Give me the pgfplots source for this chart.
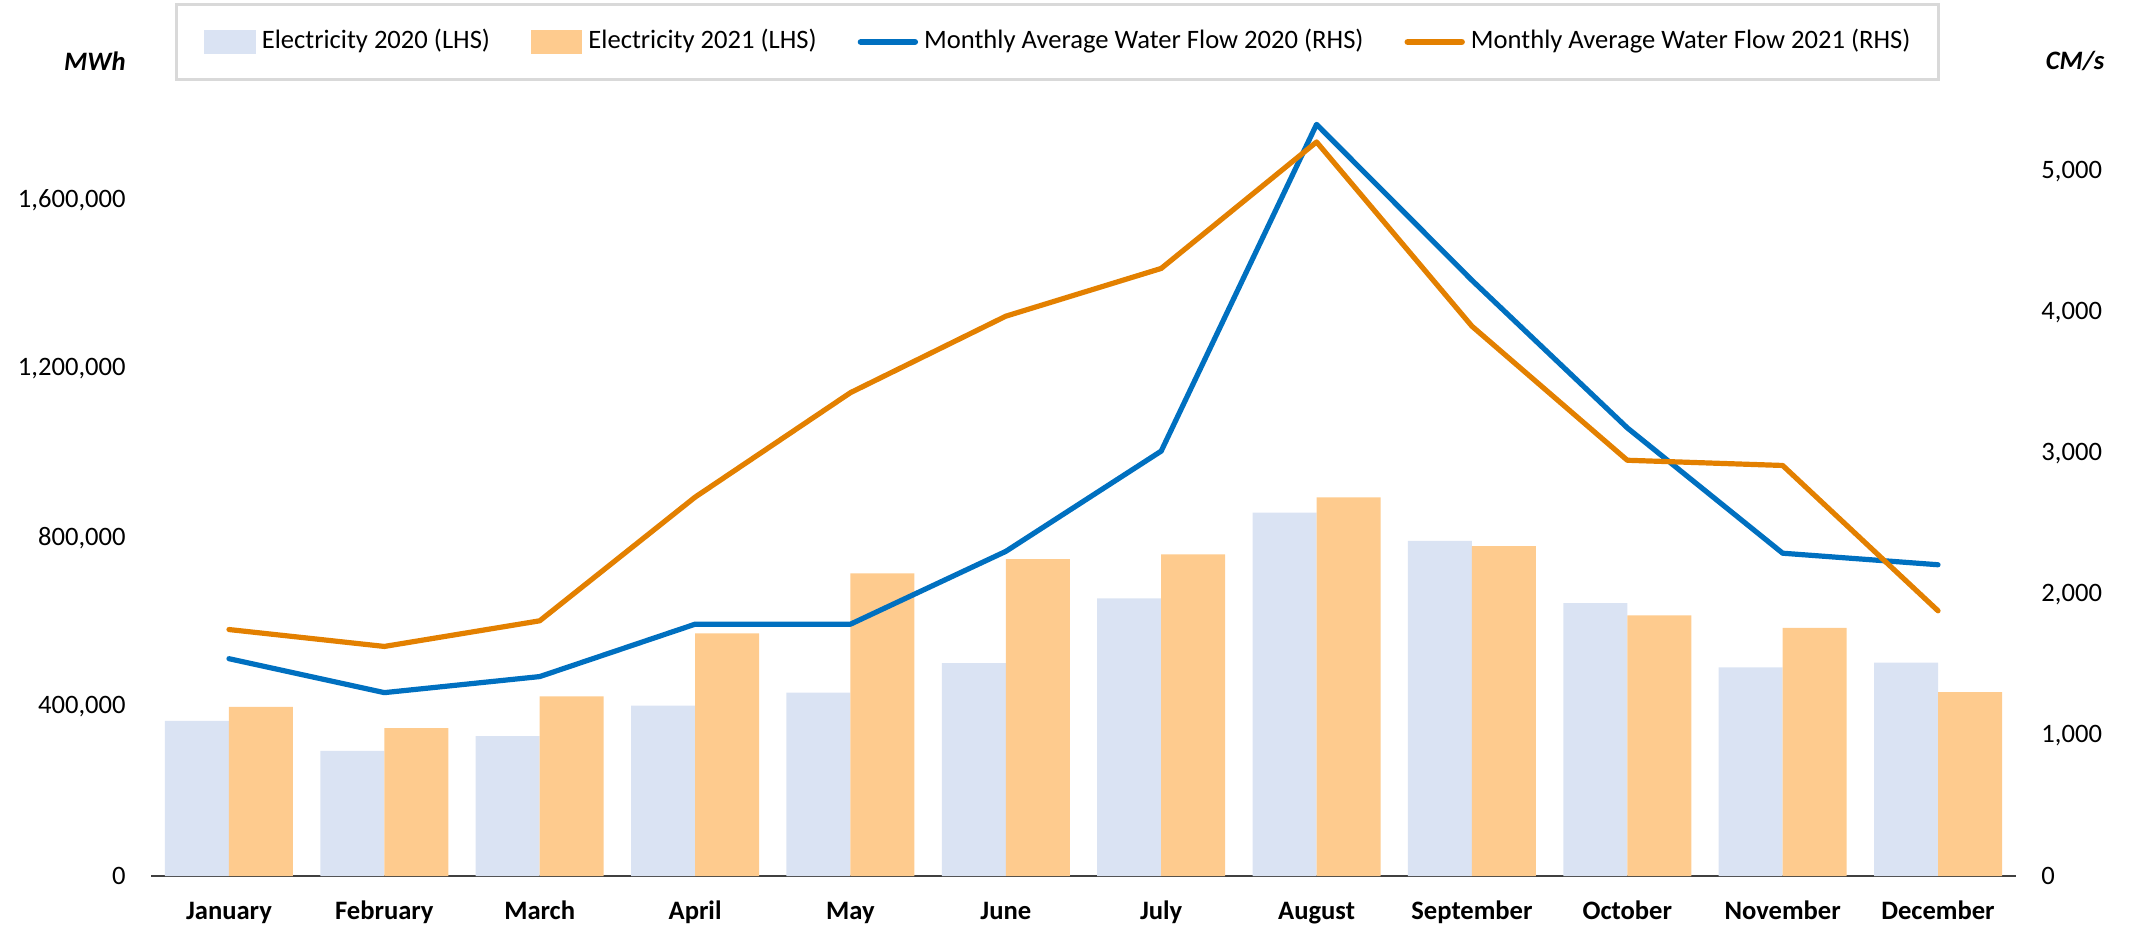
\documentclass[border=0pt]{standalone}
\usepackage{pgfplots}
\pgfplotsset{compat=1.18}
\usepackage{fontspec}
\setmainfont{Carlito}
\definecolor{bar20}{HTML}{DAE3F3}
\definecolor{bar21}{HTML}{FECB8E}
\definecolor{line20}{HTML}{0070C0}
\definecolor{line21}{HTML}{E38000}
\definecolor{legborder}{HTML}{D9D9D9}
\newcommand{\fs}{\fontsize{13.3}{16}\selectfont}
\begin{document}
\begin{tikzpicture}
\begin{axis}[
  at={(0pt,0pt)}, anchor=south west,
  scale only axis, width=932.2pt, height=422.5pt,
  xmin=-0.5, xmax=11.5, ymin=0, ymax=2000000,
  axis x line*=bottom, axis y line*=left,
  x axis line style={draw=black!75, line width=1pt, -},
  y axis line style={draw=none},
  scaled y ticks=false,
  xtick={0,...,11},
  xticklabels={January,February,March,April,May,June,July,August,September,October,November,December},
  xticklabel style={font=\fs\bfseries, anchor=base, inner sep=0pt, yshift=-21.5pt},
  ytick={0,400000,800000,1200000,1600000},
  yticklabels={0,{400,000},{800,000},{1,200,000},{1,600,000}},
  yticklabel style={font=\fs, anchor=east, inner sep=0pt, xshift=-12.65pt},
  major tick length=0pt,
  /pgf/number format/assume math mode=true,
  clip=false,
]
\addplot[ybar, bar width=0.412, bar shift=-0.206, fill=bar20, draw=none] coordinates {
 (0,367000) (1,296000) (2,331000) (3,403000) (4,434000) (5,504000)
 (6,657000) (7,860000) (8,793000) (9,646000) (10,494000) (11,505000)};
\addplot[ybar, bar width=0.412, bar shift=0.206, fill=bar21, draw=none] coordinates {
 (0,400000) (1,350000) (2,425000) (3,574000) (4,716000) (5,750000)
 (6,761000) (7,896000) (8,781000) (9,617000) (10,587000) (11,435000)};
\end{axis}
\begin{axis}[
  at={(0pt,0pt)}, anchor=south west,
  scale only axis, width=932.2pt, height=422.5pt,
  xmin=-0.5, xmax=11.5, ymin=0, ymax=6000,
  axis x line=none, axis y line*=right,
  y axis line style={draw=none},
  scaled y ticks=false,
  ytick={0,1000,2000,3000,4000,5000},
  yticklabels={0,{1,000},{2,000},{3,000},{4,000},{5,000}},
  yticklabel style={font=\fs, anchor=west, inner sep=0pt, xshift=12.65pt},
  major tick length=0pt,
  /pgf/number format/assume math mode=true,
  legend columns=4,
  legend style={at={(0.486,0.987)}, anchor=center, draw=legborder, line width=1.2pt, fill=white,
    font=\fs, inner xsep=14pt, inner ysep=12.5pt,
    nodes={inner sep=0pt, text height=9.5pt, text depth=3pt},
    /tikz/every odd column/.append style={column sep=3pt},
    /tikz/every even column/.append style={column sep=20.5pt}},
  legend cell align=left,
]
\addlegendimage{legend image code/.code={\fill[bar20] (0pt,-5.25pt) rectangle (24.5pt,5.25pt);}}
\addlegendentry{Electricity 2020 (LHS)}
\addlegendimage{legend image code/.code={\fill[bar21] (0pt,-5.25pt) rectangle (24.5pt,5.25pt);}}
\addlegendentry{Electricity 2021 (LHS)}
\addplot[line20, line width=2.6pt, line cap=round, line join=round,
  legend image code/.code={\draw[line20, line width=3.2pt] (0pt,0pt) -- (27pt,0pt);}] coordinates {
 (0,1543) (1,1302) (2,1416) (3,1788) (4,1788) (5,2305)
 (6,3017) (7,5337) (8,4230) (9,3182) (10,2292) (11,2210)};
\addlegendentry{Monthly Average Water Flow 2020 (RHS)}
\addplot[line21, line width=2.6pt, line cap=round, line join=round,
  legend image code/.code={\draw[line21, line width=3.2pt] (0pt,0pt) -- (27pt,0pt);}] coordinates {
 (0,1750) (1,1630) (2,1812) (3,2690) (4,3432) (5,3975)
 (6,4314) (7,5212) (8,3904) (9,2952) (10,2915) (11,1883)};
\addlegendentry{Monthly Average Water Flow 2021 (RHS)}
\end{axis}
\node[font=\fs\bfseries\itshape] at (-28.2pt,407.5pt) {MWh};
\node[font=\fs\bfseries\itshape] at (961.9pt,407.5pt) {CM/s};
\pgfresetboundingbox
\path (-75.65pt,-25pt) rectangle (989.85pt,438pt);
\end{tikzpicture}
\end{document}
